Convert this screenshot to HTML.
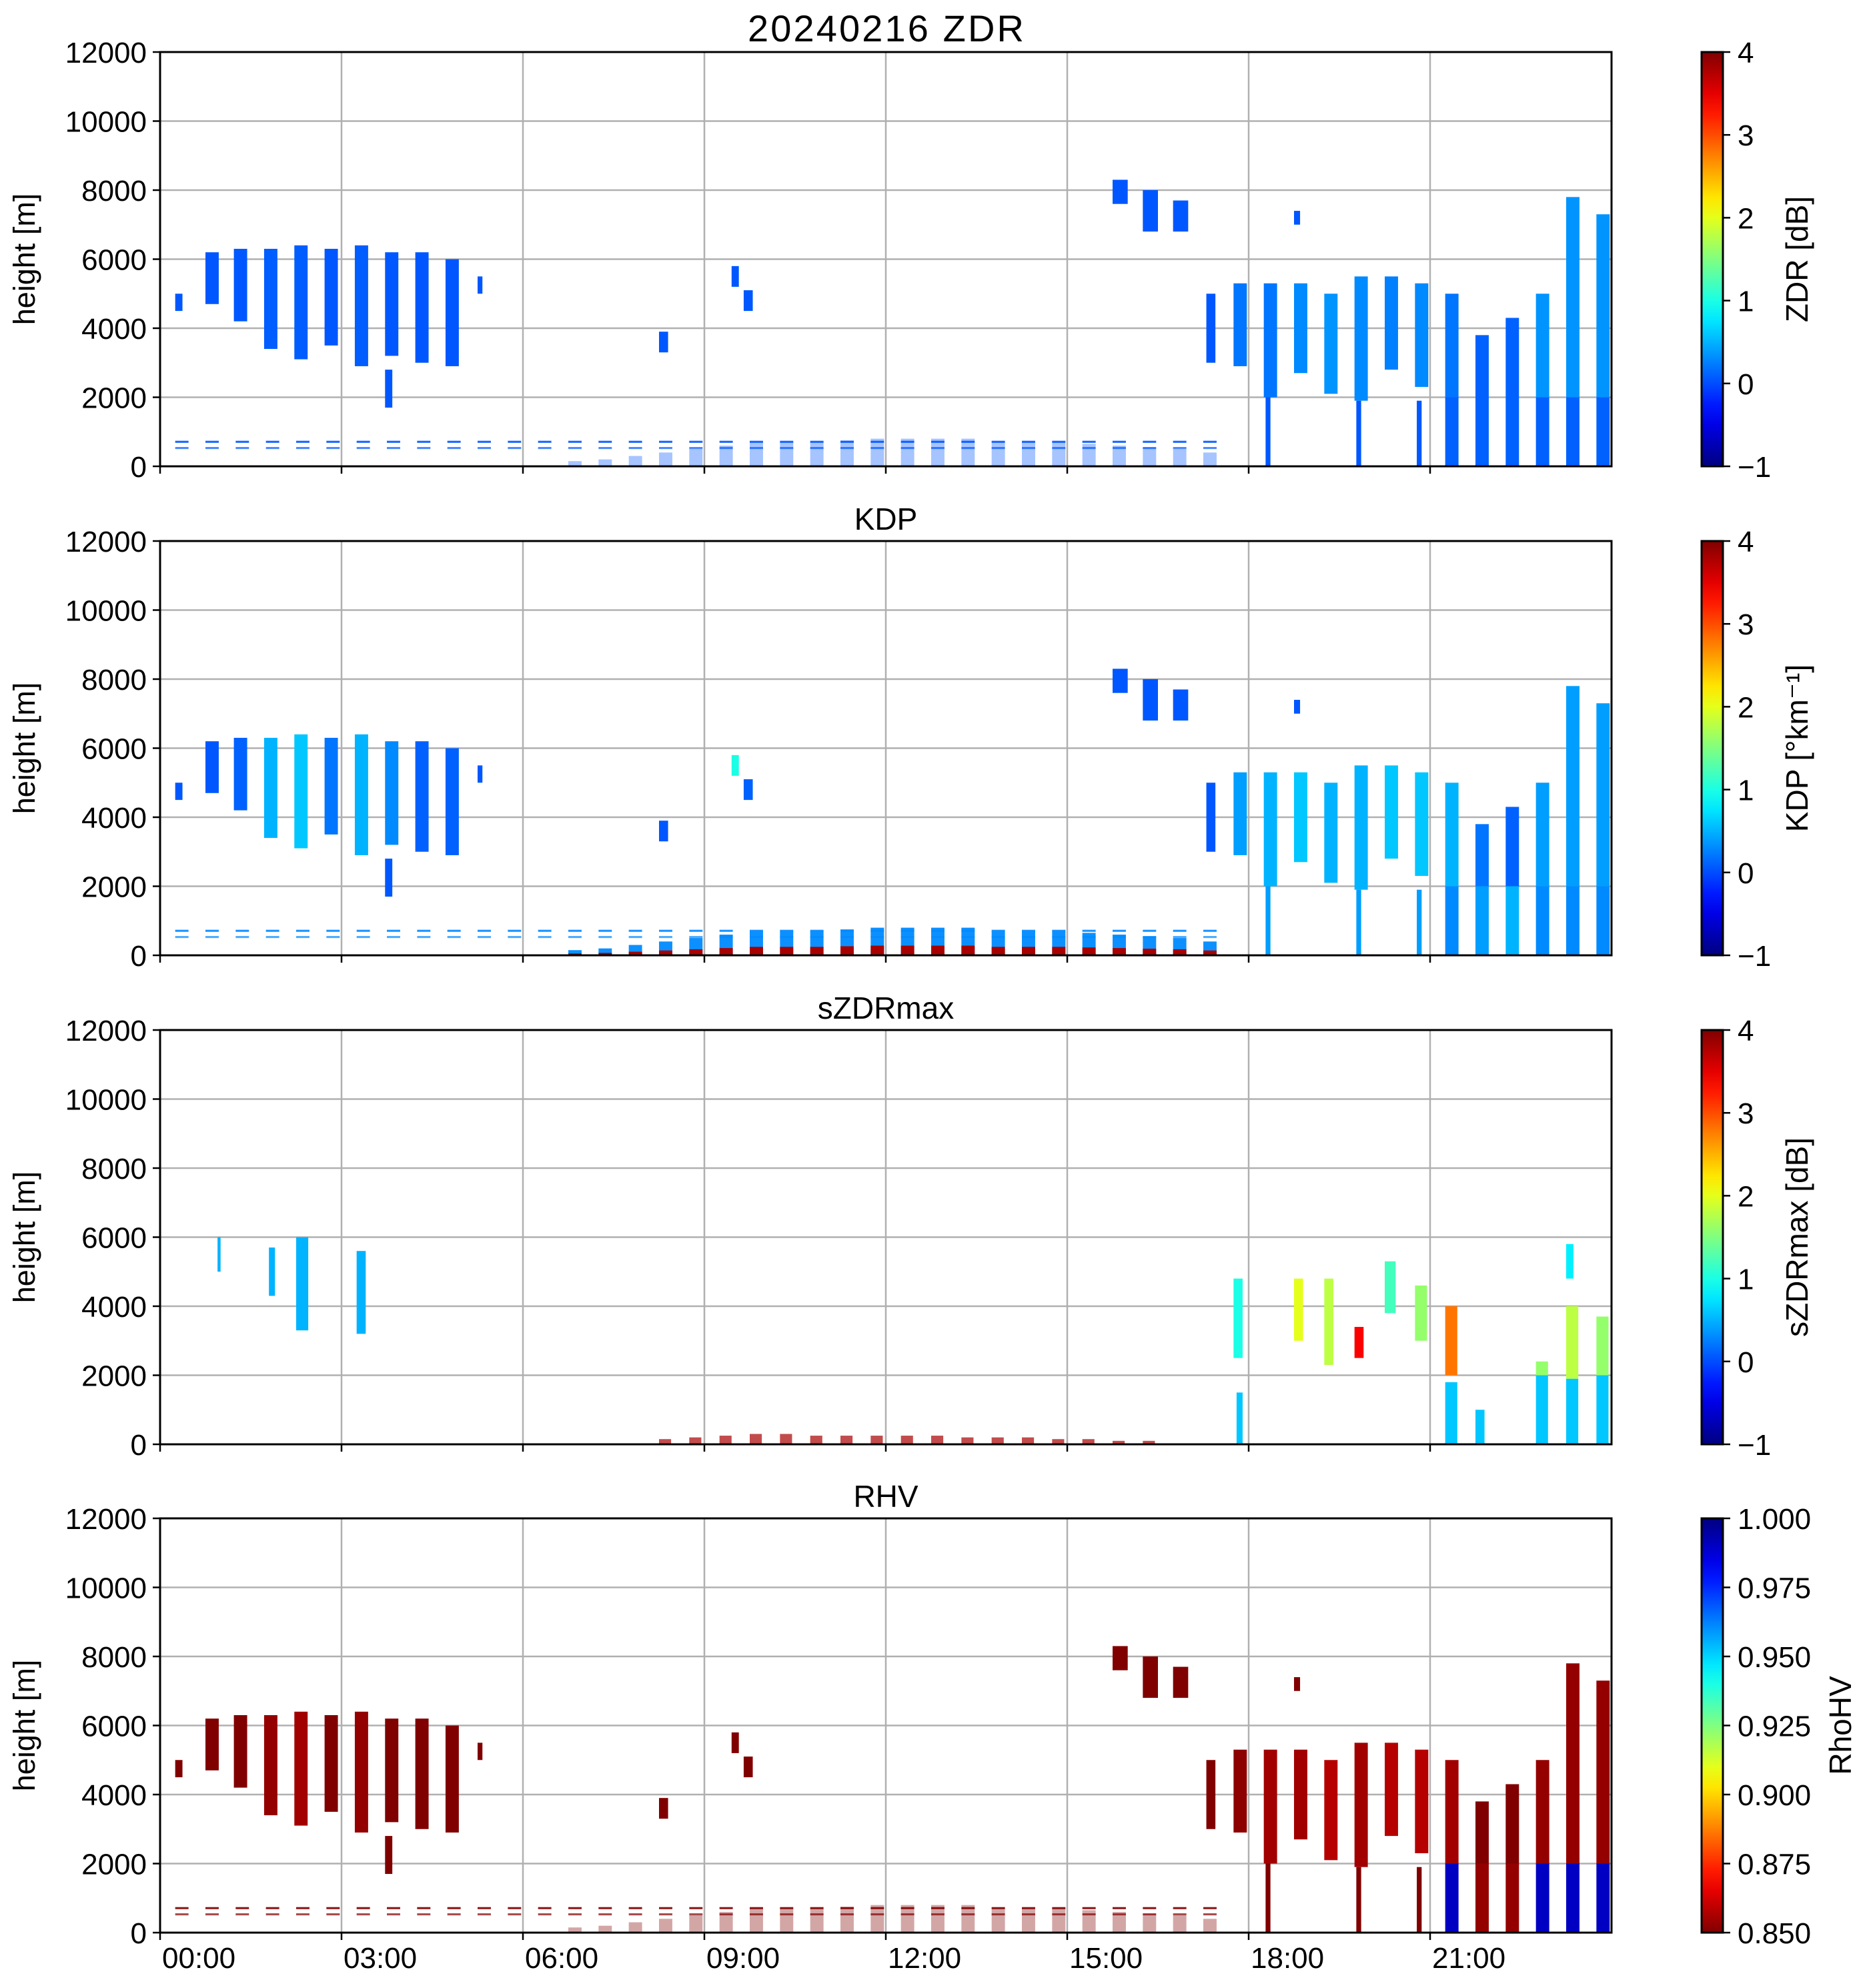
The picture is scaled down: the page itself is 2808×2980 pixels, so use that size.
<!DOCTYPE html>
<html><head><meta charset="utf-8">
<style>
html,body{margin:0;padding:0;background:#fff;}
svg{display:block;font-family:"Liberation Sans","DejaVu Sans",sans-serif;}
</style></head>
<body>
<svg id="fig" width="2808" height="2980" viewBox="0 0 2808 2980" xmlns="http://www.w3.org/2000/svg">
<defs>
<linearGradient id="jetUp" x1="0" y1="1" x2="0" y2="0"></linearGradient>
<linearGradient id="jetDown" x1="0" y1="0" x2="0" y2="1"></linearGradient>
</defs>
<g id="layer"></g>
</svg>
<script>
// ---------- data ----------
const blkT   = [0.25,0.75,1.22,1.72,2.22,2.72,3.22,3.72,3.72,4.22,4.72,5.25,8.25,9.45,9.65,15.75,16.25,16.75,18.75,17.3,17.75,18.25,18.28,18.75,19.25,19.75,19.78,20.25,20.75,20.78,21.25,21.25,21.75,21.75,22.25,22.25,22.75,22.75,23.25,23.25,23.75,23.75];
const blkDur = [0.12,0.22,0.22,0.22,0.22,0.22,0.22,0.22,0.12,0.22,0.22,0.08,0.15,0.12,0.15,0.25,0.25,0.25,0.10,0.15,0.22,0.22,0.08,0.22,0.22,0.22,0.08,0.22,0.22,0.08,0.22,0.22,0.22,0.22,0.22,0.22,0.22,0.22,0.22,0.22,0.22,0.22];
const blkBot = [4500,4700,4200,3400,3100,3500,2900,3200,1700,3000,2900,5000,3300,5200,4500,7600,6800,6800,7000,3000,2900,2000,0,2700,2100,1900,0,2800,2300,0,2000,0,2000,0,2000,0,2000,0,2000,0,2000,0];
const blkTop = [5000,6200,6300,6300,6400,6300,6400,6200,2800,6200,6000,5500,3900,5800,5100,8300,8000,7700,7400,5000,5300,5300,2000,5300,5000,5500,1900,5500,5300,1900,5000,2000,3800,2000,4300,2000,5000,2000,7800,2000,7300,2000];
const zdrVal = [0.05,0.05,0.05,0.08,0.08,0.05,0.08,0.05,0.05,0.05,0.05,0.05,0.05,0.05,0.05,0.05,0.05,0.05,0.05,0.05,0.2,0.2,0.05,0.3,0.35,0.3,0.05,0.25,0.3,0.05,0.2,0.1,0.1,0.1,0.1,0.1,0.35,0.1,0.35,0.1,0.35,0.1];
const kdpVal = [0.05,0.05,0.1,0.5,0.6,0.2,0.5,0.3,0.05,0.1,0.1,0.05,0.05,1.0,0.1,0.05,0.05,0.05,0.05,0.05,0.4,0.5,0.4,0.6,0.5,0.5,0.4,0.6,0.6,0.4,0.5,0.3,0.2,0.4,0.1,0.5,0.4,0.3,0.4,0.3,0.4,0.3];
const rhvVal = [0.85,0.85,0.85,0.853,0.855,0.85,0.853,0.85,0.85,0.85,0.85,0.85,0.85,0.85,0.85,0.85,0.85,0.85,0.85,0.85,0.852,0.855,0.85,0.855,0.858,0.855,0.85,0.858,0.858,0.85,0.855,0.99,0.85,0.853,0.85,0.853,0.853,0.99,0.853,0.99,0.853,0.99];
const lowT   = [0.25,0.75,1.25,1.75,2.25,2.75,3.25,3.75,4.25,4.75,5.25,5.75,6.25,6.75,7.25,7.75,8.25,8.75,9.25,9.75,10.25,10.75,11.25,11.75,12.25,12.75,13.25,13.75,14.25,14.75,15.25,15.75,16.25,16.75,17.25];
const lowTop = [0,0,0,0,0,0,0,0,0,0,0,0,0,150,200,300,400,500,600,700,700,700,750,800,800,800,800,700,700,700,650,600,550,500,400];
const lowZdr = 0.05, lowKdp = 0.3, lowRhv = 0.85;
const szT   = [0.95,1.8,2.25,3.25,17.75,17.8,18.75,19.25,19.75,20.25,20.75,21.25,21.25,21.75,22.75,22.75,23.25,23.25,23.25,23.75,23.75];
const szDur = [0.05,0.1,0.2,0.15,0.15,0.1,0.15,0.15,0.15,0.18,0.2,0.2,0.2,0.15,0.2,0.2,0.2,0.2,0.12,0.2,0.2];
const szBot = [5000,4300,3300,3200,2500,0,3000,2300,2500,3800,3000,2000,0,0,0,2000,0,1900,4800,0,2000];
const szTop = [6000,5700,6000,5600,4800,1500,4800,4800,3400,5300,4600,4000,1800,1000,2000,2400,1900,4000,5800,2000,3700];
const szVal = [0.5,0.5,0.5,0.5,1.0,0.6,2.0,1.8,3.4,1.2,1.6,2.8,0.6,0.6,0.6,1.6,0.6,1.8,0.8,0.6,1.6];
const szLowT = [8.25,8.75,9.25,9.75,10.25,10.75,11.25,11.75,12.25,12.75,13.25,13.75,14.25,14.75,15.25,15.75,16.25];
const szLowTop = [150,200,250,300,300,250,250,250,250,250,200,200,200,150,150,100,100];
const yTicks = [0,2000,4000,6000,8000,10000,12000];
const xTickH = [0,3,6,9,12,15,18,21];
const xTickLbl = ["00:00","03:00","06:00","09:00","12:00","15:00","18:00","21:00"];
const cbTicksA = [-1,0,1,2,3,4];
const cbTicksR = ["0.850","0.875","0.900","0.925","0.950","0.975","1.000"];

// ---------- layout ----------
const L=240, R=2416, PH=621;
const tops=[78,811,1544,2276];
const CBX=2551, CBW=32;
const NS="http://www.w3.org/2000/svg";
const layer=document.getElementById('layer');
function mk(tag,attrs,parent){const e=document.createElementNS(NS,tag);for(const k in attrs)e.setAttribute(k,attrs[k]);(parent||layer).appendChild(e);return e;}
function xS(h){return L+(R-L)*h/24;}
function jet(t){t=Math.max(0,Math.min(1,t));const c=v=>Math.round(255*Math.max(0,Math.min(1,v)));return `rgb(${c(1.5-Math.abs(4*t-3))},${c(1.5-Math.abs(4*t-2))},${c(1.5-Math.abs(4*t-1))})`;}
function colA(v){return jet((v+1)/5);}
function colR(v){return jet(1-(v-0.85)/0.15);}

const gU=document.getElementById('jetUp'), gD=document.getElementById('jetDown');
for(let i=0;i<=20;i++){const t=i/20;mk('stop',{offset:t,'stop-color':jet(t)},gU);mk('stop',{offset:t,'stop-color':jet(t)},gD);}

const titles=["KDP","sZDRmax","RHV"];
const cbLabels=["ZDR [dB]","KDP [°km⁻¹]","sZDRmax [dB]","RhoHV"];
const panelNames=["zdr","kdp","szdrmax","rhv"];

tops.forEach((T,p)=>{
  const g=mk('g',{});
  
  
  const yS=m=>T+PH-PH*m/12000;
  yTicks.forEach(v=>{const l=mk('line',{x1:L,x2:R,y1:yS(v),y2:yS(v),stroke:'#b0b0b0','stroke-width':2.5},g);
    });
  xTickH.forEach(h=>{if(h===0)return;const l=mk('line',{x1:xS(h),x2:xS(h),y1:T,y2:T+PH,stroke:'#b0b0b0','stroke-width':2.5},g);
    });
  const data=mk('g',{},g);
  
  
  function cell(t,d,b,tp,fill,op){const r=mk('rect',{x:xS(t),y:yS(tp),width:Math.max(1.5,xS(t+d)-xS(t)),height:Math.max(2,yS(b)-yS(tp)),fill:fill,'fill-opacity':op||1},data);
    }
  if(p===2){
    szT.forEach((t,i)=>cell(t,szDur[i],szBot[i],szTop[i],colA(szVal[i])));
    szLowT.forEach((t,i)=>cell(t,0.2,0,szLowTop[i],colA(3.8),0.7));
  } else {
    const vals=p===0?zdrVal:p===1?kdpVal:rhvVal;
    const cf=p===3?colR:colA;
    blkT.forEach((t,i)=>cell(t,blkDur[i],blkBot[i],blkTop[i],cf(vals[i])));
    const lv=p===0?lowZdr:p===1?lowKdp:lowRhv;
    lowT.forEach((t,i)=>{
      cell(t,0.22,500,560,cf(lv),0.7);
      cell(t,0.22,680,740,cf(lv),0.9);
      if(lowTop[i]>0){
        cell(t,0.22,0,lowTop[i],cf(lv),p===1?0.95:0.35);
        if(p===1) cell(t,0.22,0,lowTop[i]*0.35,colA(3.8));
      }
    });
  }
  const fr=mk('rect',{x:L,y:T,width:R-L,height:PH,fill:'none',stroke:'#000','stroke-width':3},g);
  
  yTicks.forEach(v=>{mk('line',{x1:L-11,x2:L,y1:yS(v),y2:yS(v),stroke:'#000','stroke-width':2.5},g);
    const tx=mk('text',{x:L-20,y:yS(v)+16,'text-anchor':'end','font-size':44},g);tx.textContent=v;
    });
  xTickH.forEach((h,i)=>{mk('line',{x1:xS(h),x2:xS(h),y1:T+PH,y2:T+PH+11,stroke:'#000','stroke-width':2.5},g);
    if(p===3){const tx=mk('text',{x:xS(h)+3,y:2950,'font-size':44},g);tx.textContent=xTickLbl[i];
      }});
  const yl=mk('text',{x:0,y:0,'font-size':45,'text-anchor':'middle',transform:`translate(52,${T+PH/2}) rotate(-90)`},g);
  yl.textContent='height [m]';
  
  let tt;
  if(p===0){tt=mk('text',{x:(L+R)/2,y:62,'text-anchor':'middle','font-size':56,textLength:414},g);tt.textContent='20240216 ZDR';}
  else {tt=mk('text',{x:(L+R)/2,y:T-17,'text-anchor':'middle','font-size':46},g);tt.textContent=titles[p-1];}
  
  const cb=mk('rect',{x:CBX,y:T,width:CBW,height:PH,fill:p===3?'url(#jetDown)':'url(#jetUp)',stroke:'#000','stroke-width':3},g);
  
  if(p===3){
    cbTicksR.forEach((s,i)=>{const y=T+PH-PH*i/6;mk('line',{x1:CBX+CBW,x2:CBX+CBW+11,y1:y,y2:y,stroke:'#000','stroke-width':2.5},g);
      const tx=mk('text',{x:CBX+CBW+22,y:y+16,'font-size':44},g);tx.textContent=s;
      });
  } else {
    cbTicksA.forEach(v=>{const y=T+PH-PH*(v+1)/5;mk('line',{x1:CBX+CBW,x2:CBX+CBW+11,y1:y,y2:y,stroke:'#000','stroke-width':2.5},g);
      const tx=mk('text',{x:CBX+CBW+22,y:y+16,'font-size':44},g);tx.textContent=v<0?'\u2212'+(-v):v;
      });
  }
  const cx=p===3?2775:2710;
  const cl=mk('text',{x:0,y:0,'font-size':46,'text-anchor':'middle',transform:`translate(${cx},${T+PH/2}) rotate(-90)`},g);
  cl.textContent=cbLabels[p];
  
});
</script>
</body></html>
